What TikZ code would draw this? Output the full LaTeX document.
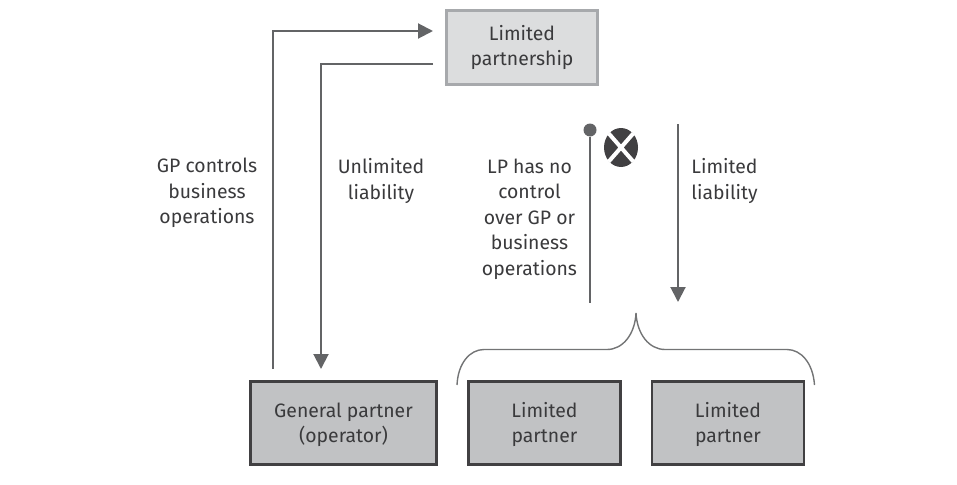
\documentclass[tikz,border=0pt]{standalone}
\usepackage{fontspec}
\setmainfont{Fira Sans}
\usetikzlibrary{arrows.meta,shapes.geometric}
\definecolor{linegray}{HTML}{636466}
\definecolor{darkx}{HTML}{414042}
\definecolor{txt}{HTML}{3A3A3C}
\definecolor{lightfill}{HTML}{DCDDDE}
\definecolor{lightedge}{HTML}{A7A9AC}
\definecolor{midfill}{HTML}{C1C2C4}
\newcommand{\dropline}{\rule{0pt}{18.4pt}}
\tikzset{
  x=1pt,y=-1pt,
  lbl/.style={text=txt,font=\fontsize{19.4}{25.5}\selectfont,align=center,inner sep=0pt},
  topbox/.style={lbl,draw=lightedge,fill=lightfill,line width=2.05pt,minimum width=151pt,minimum height=74pt},
  partybox/.style={lbl,draw=darkx,fill=midfill,line width=2.05pt,minimum height=83pt},
  conn/.style={draw=linegray,line width=2pt},
  arr/.style={conn,-{Triangle[length=15pt,width=15pt]}},
}
\begin{document}
\begin{tikzpicture}
\useasboundingbox (0,0) rectangle (957,484);
\node[topbox] (lp) at (522,47.5) {Limited\\partnership};
\node[partybox,minimum width=186pt] (gp) at (343.5,423) {\dropline General partner\\(operator)};
\node[partybox,minimum width=152pt] (lpa) at (544.5,423) {\dropline Limited\\partner};
\node[partybox,minimum width=152pt] (lpb) at (728,423) {\dropline Limited\\partner};

\coordinate (ctlstart) at (273,369);
\coordinate (ctlend) at (433,31);
\coordinate (libstart) at (433,64);
\coordinate (libend) at (321,369);
\draw[arr] (ctlstart) |- (ctlend);
\draw[arr] (libstart) -| (libend);

\node[lbl] (t1) at (207,193) {GP controls\\business\\operations};
\node[lbl] (t2) at (381,181) {Unlimited\\liability};
\node[lbl] (t3) at (529.5,219) {LP has no\\control\\over GP or\\business\\operations};
\node[lbl] (t4) at (724.5,181) {Limited\\liability};

\node[circle,fill=linegray,minimum size=13pt,inner sep=0pt] (dot) at (590,130) {};
\coordinate (dotend) at (590,303);
\draw[conn] (dot) -- (dotend);
\coordinate (lim1) at (678,124);
\coordinate (lim2) at (678,302);
\draw[arr] (lim1) -- (lim2);

\node[ellipse,fill=darkx,minimum width=34pt,minimum height=39pt,inner sep=0pt] (no) at (621,147.5) {};
\draw[white,line width=4pt] (no.north west) -- (no.south east) (no.north east) -- (no.south west);

\coordinate (bl) at (457,385);
\coordinate (br) at (814.5,385);
\coordinate (btip) at (636,313);
\draw[draw=linegray!90,line width=1.4pt]
  (bl) .. controls (458,363) and (470,349.5) .. (484,349.5) -- (607,349.5)
  .. controls (623,349.5) and (635,334) .. (btip)
  .. controls (637,334) and (649,349.5) .. (665,349.5) -- (787,349.5)
  .. controls (801,349.5) and (813,363) .. (br);
\end{tikzpicture}
\end{document}
